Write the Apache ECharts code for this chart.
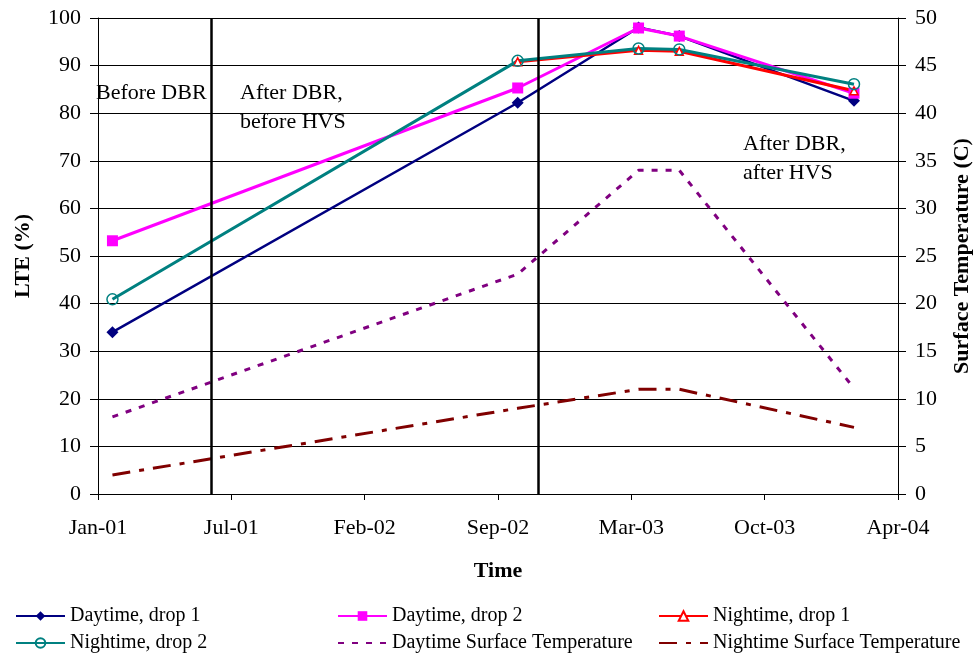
<!DOCTYPE html>
<html>
<head>
<meta charset="utf-8">
<script src="https://cdn.jsdelivr.net/npm/echarts@6/dist/echarts.min.js"></script>
<style>
  html, body { margin: 0; padding: 0; background: #fff; }
  #chart { width: 977px; height: 659px; }
</style>
</head>
<body>
<div id="chart"></div>
<script>
// Time axis: ticks every TICK_DAYS days starting at AXIS_START
const AXIS_START = '2001-01-01';
const TICK_DAYS = 203;
const tickLabels = ['Jan-01', 'Jul-01', 'Feb-02', 'Sep-02', 'Mar-03', 'Oct-03', 'Apr-04'];

// Test dates and measurements
const testDates = ['2001-01-23', '2002-10-02', '2003-04-04', '2003-06-05', '2004-02-26'];
const daytimeDrop1 = [34.0, 82.2, 98.0, 96.2, 82.6];
const daytimeDrop2 = [53.2, 85.3, 97.9, 96.2, 84.2];
const nightimeDrop1 = [null, 90.8, 93.2, 93.0, 84.7];
const nightimeDrop2 = [40.9, 91.0, 93.6, 93.4, 86.1];
const daytimeSurfaceTemp = [8.1, 23.1, 34.0, 34.0, 11.1];
const nightimeSurfaceTemp = [2.0, 9.0, 11.0, 11.0, 7.0];

// Phase boundaries (DBR retrofit, HVS) and phase captions
const phaseDates = ['2001-06-22', '2002-11-03'];
const phaseLabels = ['Before DBR', 'After DBR,\nbefore HVS', 'After DBR,\nafter HVS'];

const seriesNames = [
  'Daytime, drop 1', 'Daytime, drop 2', 'Nightime, drop 1',
  'Nightime, drop 2', 'Daytime Surface Temperature', 'Nightime Surface Temperature'
];

const FONT = '"Liberation Serif", "Times New Roman", serif';

function dayOf(dateStr) {
  const p = s => { const a = s.split('-').map(Number); return Date.UTC(a[0], a[1] - 1, a[2]); };
  return (p(dateStr) - p(AXIS_START)) / 86400000;
}
function pairs(values) {
  return testDates.map((d, i) => [dayOf(d), values[i] === null ? '-' : values[i]]);
}

const chart = echarts.init(document.getElementById('chart'), null, { renderer: 'canvas' });

const legendBase = {
  orient: 'vertical',
  top: 606,
  itemGap: 7,
  itemWidth: 49,
  itemHeight: 12,
  padding: 0,
  textStyle: { fontFamily: FONT, fontSize: 20, color: '#000' },
  selectedMode: false
};

const option = {
  animation: false,
  backgroundColor: '#fff',
  grid: { left: 98, right: 79, top: 18, bottom: 165, containLabel: false, outerBoundsMode: 'none' },
  legend: [
    Object.assign({}, legendBase, { left: 15, data: [seriesNames[0], seriesNames[3]] }),
    Object.assign({}, legendBase, { left: 337, data: [seriesNames[1], seriesNames[4]] }),
    Object.assign({}, legendBase, { left: 658, data: [seriesNames[2], seriesNames[5]] })
  ],
  xAxis: {
    type: 'value',
    min: 0,
    max: TICK_DAYS * (tickLabels.length - 1),
    interval: TICK_DAYS,
    name: 'Time',
    nameLocation: 'middle',
    nameGap: 66,
    nameTextStyle: { fontFamily: FONT, fontSize: 22, fontWeight: 'bold', color: '#000' },
    axisLine: { show: true, onZero: false, lineStyle: { color: '#000', width: 1 } },
    axisTick: { show: true, length: 6, lineStyle: { color: '#000' } },
    axisLabel: {
      margin: 23,
      fontFamily: FONT, fontSize: 22, color: '#000',
      formatter: v => tickLabels[Math.round(v / TICK_DAYS)] || ''
    },
    splitLine: { show: false }
  },
  yAxis: [
    {
      type: 'value',
      min: 0, max: 100, interval: 10,
      name: 'LTE (%)',
      nameLocation: 'middle',
      nameRotate: 90,
      nameGap: 64,
      nameTextStyle: { fontFamily: FONT, fontSize: 22, fontWeight: 'bold', color: '#000' },
      axisLine: { show: true, lineStyle: { color: '#000', width: 1 } },
      axisTick: { show: true, length: 8, lineStyle: { color: '#000' } },
      axisLabel: { margin: 17, fontFamily: FONT, fontSize: 22, color: '#000' },
      splitLine: { show: true, lineStyle: { color: '#000', width: 1 } }
    },
    {
      type: 'value',
      position: 'right',
      min: 0, max: 50, interval: 5,
      name: 'Surface Temperature (C)',
      nameLocation: 'middle',
      nameRotate: 90,
      nameGap: 53,
      nameTextStyle: { fontFamily: FONT, fontSize: 22, fontWeight: 'bold', color: '#000' },
      axisLine: { show: true, lineStyle: { color: '#000', width: 1 } },
      axisTick: { show: true, length: 8, lineStyle: { color: '#000' } },
      axisLabel: { margin: 17, fontFamily: FONT, fontSize: 22, color: '#000' },
      splitLine: { show: false }
    }
  ],
  graphic: [
    { type: 'text', x: 96, y: 79, style: { text: phaseLabels[0], font: '22px ' + FONT, fill: '#000', lineHeight: 28.5 } },
    { type: 'text', x: 240, y: 79, style: { text: phaseLabels[1], font: '22px ' + FONT, fill: '#000', lineHeight: 28.5 } },
    { type: 'text', x: 743, y: 130, style: { text: phaseLabels[2], font: '22px ' + FONT, fill: '#000', lineHeight: 28.5 } }
  ],
  series: [
    {
      name: 'phases',
      type: 'line',
      data: [],
      markLine: {
        silent: true,
        symbol: ['none', 'none'],
        label: { show: false },
        lineStyle: { color: '#000', width: 2.5, type: 'solid' },
        data: phaseDates.map(d => ({ xAxis: dayOf(d) }))
      }
    },
    {
      name: seriesNames[0], type: 'line', data: pairs(daytimeDrop1),
      symbol: 'diamond', symbolSize: 12,
      itemStyle: { color: '#000080' },
      lineStyle: { color: '#000080', width: 2.5 }
    },
    {
      name: seriesNames[1], type: 'line', data: pairs(daytimeDrop2),
      symbol: 'rect', symbolSize: 11,
      itemStyle: { color: '#FF00FF' },
      lineStyle: { color: '#FF00FF', width: 3 }
    },
    {
      name: seriesNames[2], type: 'line', data: pairs(nightimeDrop1),
      symbol: 'triangle', symbolSize: 8,
      itemStyle: { color: '#fff', borderColor: '#FF0000', borderWidth: 1.5 },
      lineStyle: { color: '#FF0000', width: 3 }
    },
    {
      name: seriesNames[3], type: 'line', data: pairs(nightimeDrop2),
      symbol: 'circle', symbolSize: 11,
      itemStyle: { color: 'rgba(255,255,255,0)', borderColor: '#008080', borderWidth: 1.5 },
      lineStyle: { color: '#008080', width: 3 }
    },
    {
      name: seriesNames[4], type: 'line', yAxisIndex: 1, data: pairs(daytimeSurfaceTemp),
      symbol: 'none', showSymbol: false,
      itemStyle: { color: '#800080', opacity: 0 },
      lineStyle: { color: '#800080', width: 3, type: [6, 8] }
    },
    {
      name: seriesNames[5], type: 'line', yAxisIndex: 1, data: pairs(nightimeSurfaceTemp),
      symbol: 'none', showSymbol: false,
      itemStyle: { color: '#800000', opacity: 0 },
      lineStyle: { color: '#800000', width: 3, type: [18, 9, 5, 9] }
    }
  ]
};

chart.setOption(option);
</script>
</body>
</html>
